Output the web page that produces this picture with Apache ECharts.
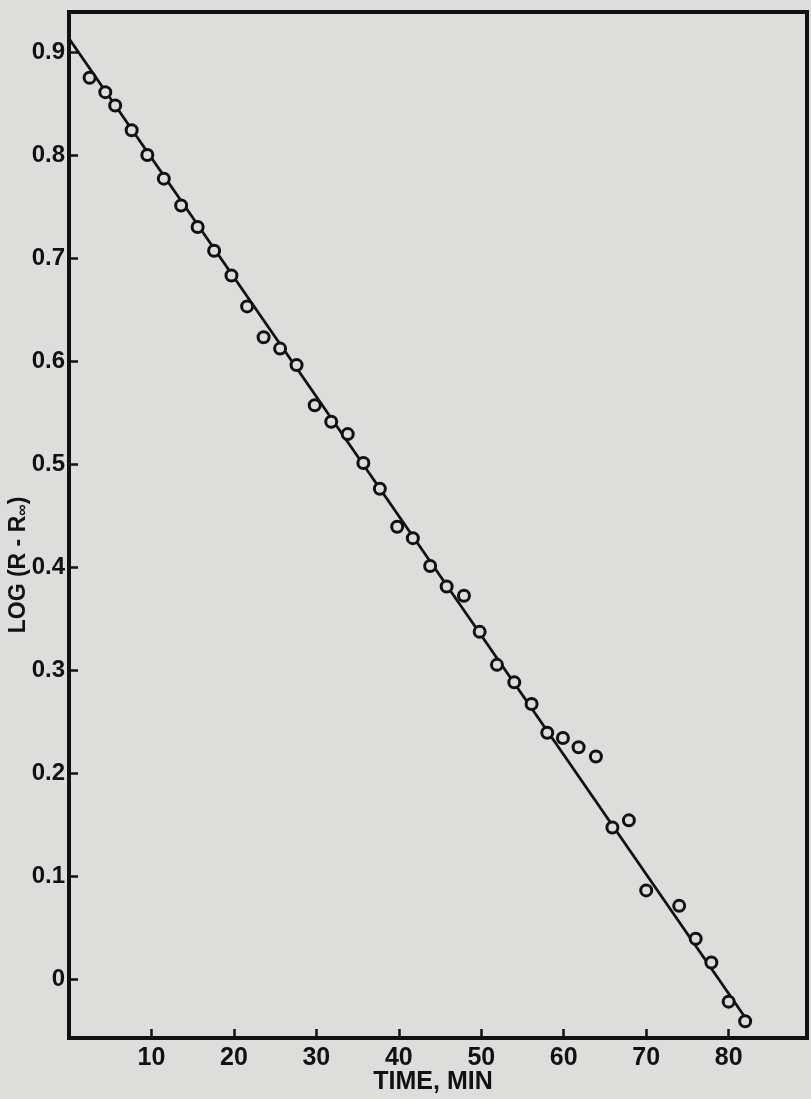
<!DOCTYPE html>
<html>
<head>
<meta charset="utf-8">
<script src="https://cdn.jsdelivr.net/npm/echarts@6/dist/echarts.min.js"></script>
<style>
html,body{margin:0;padding:0;background:#dddddb;}
#c{width:811px;height:1099px;}
</style>
</head>
<body>
<div id="c"></div>
<script>
// Measured data: time (min) and log(R - R_inf)
const timeMin = [2.5, 4.4, 5.6, 7.6, 9.5, 11.5, 13.6, 15.6, 17.6, 19.7, 21.6, 23.6, 25.6, 27.6, 29.8, 31.8, 33.8, 35.7, 37.7, 39.8, 41.7, 43.8, 45.8, 47.9, 49.8, 51.9, 54.0, 56.1, 58.0, 59.9, 61.8, 63.9, 65.9, 67.9, 70.0, 74.0, 76.0, 77.9, 80.0, 82.0];
const logR = [0.875, 0.861, 0.848, 0.824, 0.800, 0.777, 0.751, 0.730, 0.707, 0.683, 0.653, 0.623, 0.612, 0.596, 0.557, 0.541, 0.529, 0.501, 0.476, 0.439, 0.428, 0.401, 0.381, 0.372, 0.337, 0.305, 0.288, 0.267, 0.239, 0.234, 0.225, 0.216, 0.147, 0.154, 0.086, 0.071, 0.039, 0.016, -0.022, -0.041];
// Fitted straight line (end points)
const fitX = [0, 82.4];
const fitY = [0.913, -0.042];
// Tick values and labels
const xTicks = [10, 20, 30, 40, 50, 60, 70, 80];
const xTickLabels = ['10', '20', '30', '40', '50', '60', '70', '80'];
const yTicks = [0, 0.1, 0.2, 0.3, 0.4, 0.5, 0.6, 0.7, 0.8, 0.9];
const yTickLabels = ['0', '0.1', '0.2', '0.3', '0.4', '0.5', '0.6', '0.7', '0.8', '0.9'];

const ink = '#111111';
const bg = '#dddddb';
const fontFam = '"Liberation Sans", Arial, sans-serif';

const chart = echarts.init(document.getElementById('c'));
chart.setOption({
  backgroundColor: bg,
  animation: false,
  grid: {left: 69, right: 4, top: 12, bottom: 61, show: true, borderColor: ink, borderWidth: 4,
    backgroundColor: 'transparent', containLabel: false, outerBoundsMode: 'none'},
  xAxis: {
    type: 'value', min: 0, max: 89.5,
    name: 'TIME, MIN', nameLocation: 'middle', nameGap: 32, nameMoveOverlap: false,
    nameTextStyle: {color: ink, fontSize: 25, fontWeight: 'bold', fontFamily: fontFam, verticalAlign: 'top', padding: [0, 10, 0, 0]},
    axisLine: {show: true, onZero: false, lineStyle: {color: ink, width: 4}},
    axisTick: {show: true, inside: true, length: 9, lineStyle: {color: ink, width: 2.5}, customValues: xTicks},
    axisLabel: {color: ink, fontSize: 25, fontWeight: 'bold', fontFamily: fontFam, margin: 8, customValues: xTicks,
      formatter: v => xTickLabels[xTicks.indexOf(v)] ?? ''},
    splitLine: {show: false}
  },
  yAxis: {
    type: 'value', min: -0.0573, max: 0.9388,
    name: 'LOG (R - R{sub|∞})', nameLocation: 'middle', nameGap: 38, nameRotate: 90, nameMoveOverlap: false,
    nameTextStyle: {color: ink, fontSize: 23, fontWeight: 'bold', fontFamily: fontFam, padding: [0, 80, 0, 0],
      rich: {sub: {fontSize: 16, fontWeight: 'bold', color: ink, fontFamily: fontFam, verticalAlign: 'bottom', padding: [8, 0, 0, 0]}}},
    axisLine: {show: true, onZero: false, lineStyle: {color: ink, width: 4}},
    axisTick: {show: true, inside: true, length: 9, lineStyle: {color: ink, width: 2.5}, customValues: yTicks},
    axisLabel: {color: ink, fontSize: 24, fontWeight: 'bold', fontFamily: fontFam, margin: 4, customValues: yTicks,
      formatter: v => { const i = yTicks.findIndex(t => Math.abs(t - v) < 1e-9); return i >= 0 ? yTickLabels[i] : ''; }},
    splitLine: {show: false}
  },
  series: [
    {
      type: 'line', data: fitX.map((x, i) => [x, fitY[i]]), symbol: 'none',
      lineStyle: {color: ink, width: 2.8}, z: 2
    },
    {
      type: 'scatter', data: timeMin.map((x, i) => [x, logR[i]]), symbol: 'circle', symbolSize: 11,
      itemStyle: {color: bg, borderColor: ink, borderWidth: 3, opacity: 1}, z: 3
    }
  ]
});
</script>
</body>
</html>
